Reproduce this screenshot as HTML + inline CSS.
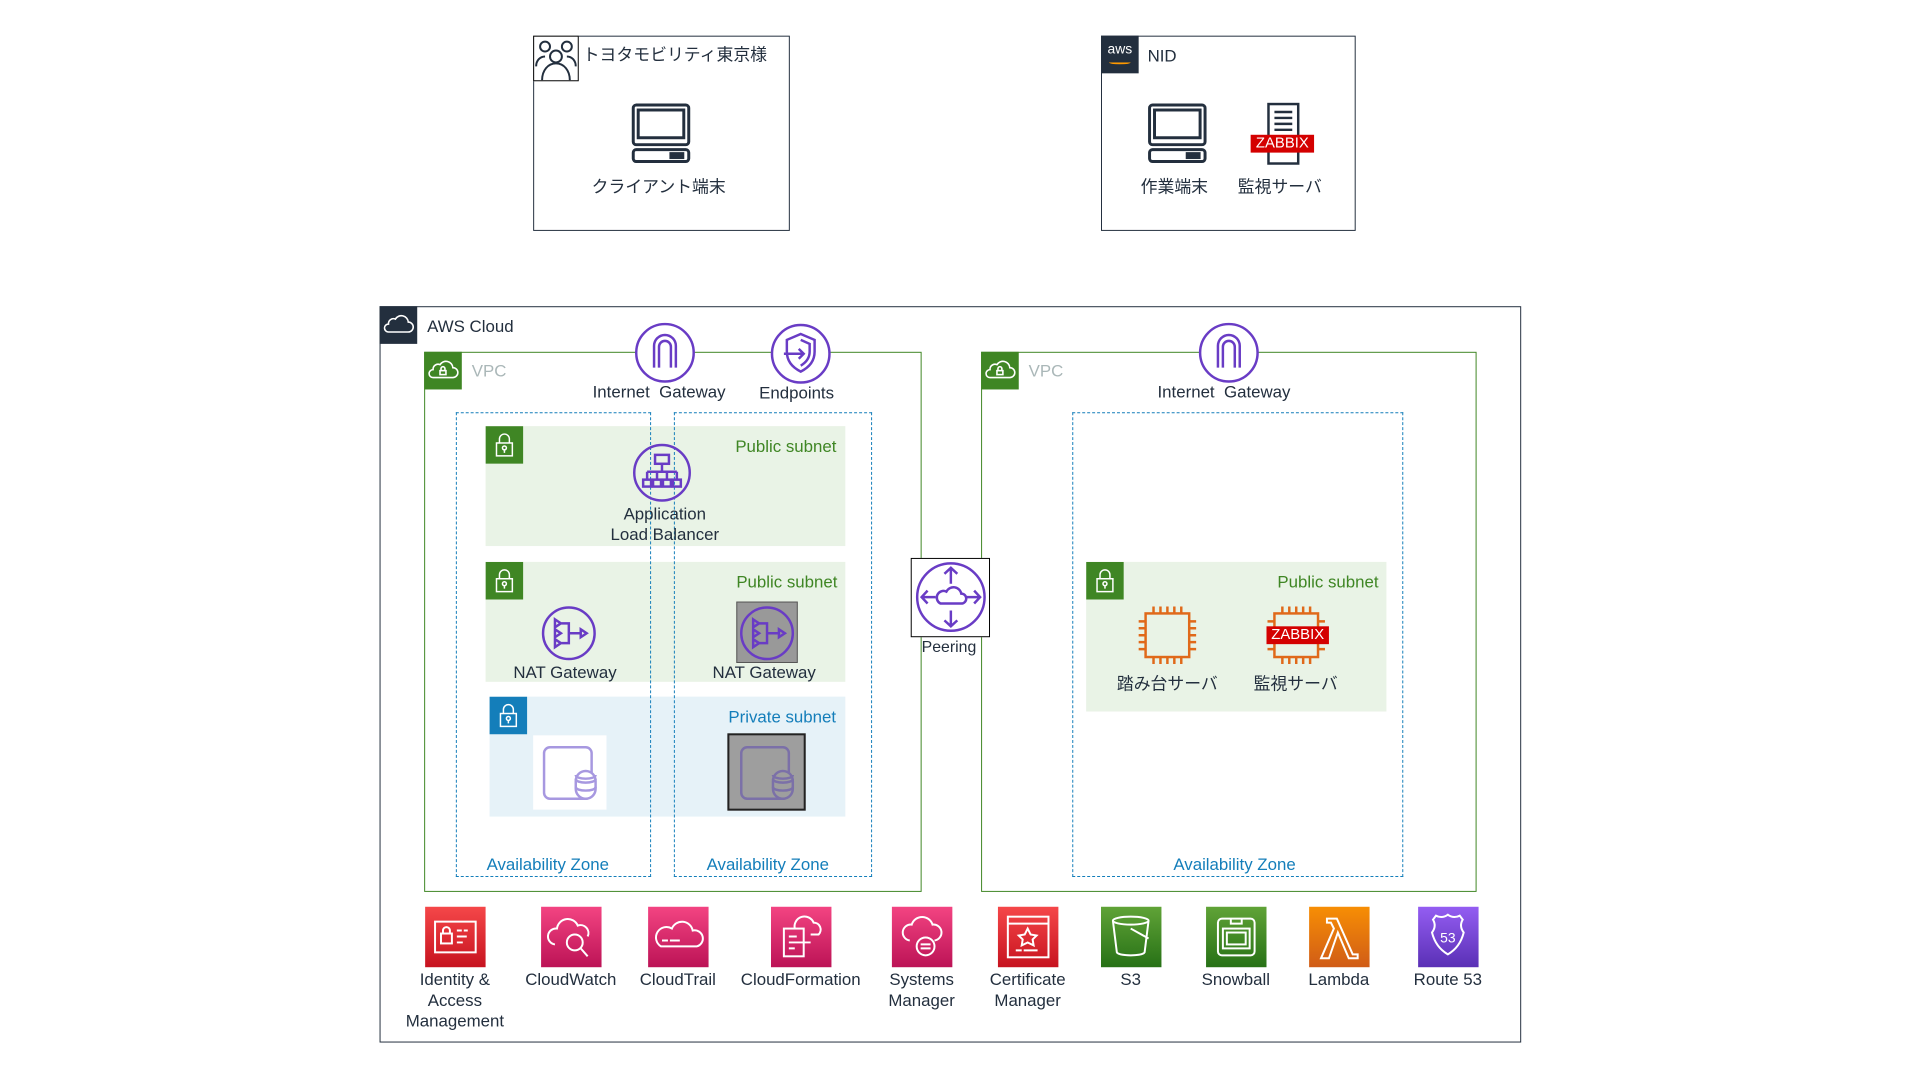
<!DOCTYPE html>
<html><head><meta charset="utf-8"><style>
*{margin:0;padding:0;box-sizing:border-box}
body{width:1920px;height:1080px;background:#fff;position:relative;overflow:hidden;font-family:"Liberation Sans","Noto Sans CJK JP",sans-serif;color:#232f3e}
#w{position:absolute;left:0;top:0;width:1920px;height:1080px;transform:scale(0.991);transform-origin:0 0}
.a{position:absolute}
.t{position:absolute;font-size:17px;white-space:nowrap;text-align:center;line-height:21px}
.icon{position:absolute;width:61px;height:61px}
</style></head><body><div id="w">

<div class="a" style="left:538px;top:36px;width:259px;height:197px;border:1.5px solid #232f3e"></div>
<div class="a" style="left:538px;top:36px;width:46px;height:46px;border:1.5px solid #000;background:#fff">
<svg width="44" height="44" viewBox="0 0 44 44" fill="none" stroke="#232f3e" stroke-width="2"><circle cx="11" cy="10" r="5"/><circle cx="33" cy="10" r="5"/><circle cx="22" cy="20" r="6"/><path d="M2 30c0-6 4-10 9-10M42 30c0-6-4-10-9-10M8 44c0-10 6-17 14-17s14 7 14 17"/></svg></div>
<div class="t" style="left:588px;top:45px;font-size:17px">トヨタモビリティ東京様</div>
<svg class="a" style="left:635px;top:103px" width="64" height="64" viewBox="0 0 64 64" fill="none" stroke="#232f3e" stroke-width="3"><rect x="4" y="3" width="56" height="40" rx="3"/><rect x="9" y="8" width="46" height="28"/><rect x="4" y="48" width="56" height="12" rx="3"/><rect x="42" y="52" width="12" height="4" fill="#232f3e"/></svg>
<div class="t" style="left:597px;top:178px">クライアント端末</div>

<div class="a" style="left:1111px;top:36px;width:257px;height:197px;border:1.5px solid #232f3e"></div>
<div class="a" style="left:1111px;top:36px;width:38px;height:38px;background:#232f3e;color:#fff;font-size:14px;text-align:center;line-height:26px">aws<div style="position:absolute;left:8px;top:25px;width:22px;height:4px;border-bottom:2px solid #f90;border-radius:0 0 50% 50%"></div></div>
<div class="t" style="left:1158px;top:46px">NID</div>
<svg class="a" style="left:1156px;top:103px" width="64" height="64" viewBox="0 0 64 64" fill="none" stroke="#232f3e" stroke-width="3"><rect x="4" y="3" width="56" height="40" rx="3"/><rect x="9" y="8" width="46" height="28"/><rect x="4" y="48" width="56" height="12" rx="3"/><rect x="42" y="52" width="12" height="4" fill="#232f3e"/></svg>
<svg class="a" style="left:1260px;top:103px" width="70" height="64" viewBox="0 0 70 64" fill="none" stroke="#232f3e" stroke-width="2.5"><rect x="20" y="2" width="30" height="60"/><path d="M26 10h18M26 16h18M26 22h18M26 28h18"/></svg>
<div class="a" style="left:1262px;top:136px;width:64px;height:18px;background:#d40000;color:#fff;font-family:'Liberation Sans',sans-serif;font-size:15px;line-height:18px;text-align:center">ZABBIX</div>
<div class="t" style="left:1151px;top:178px">作業端末</div>
<div class="t" style="left:1249px;top:178px">監視サーバ</div>

<div class="a" style="left:383px;top:309px;width:1152px;height:743px;border:1.5px solid #232f3e"></div>
<div class="a" style="left:383px;top:309px;width:38px;height:38px;background:#232f3e">
<svg width="38" height="38" viewBox="0 0 38 38" fill="none" stroke="#fff" stroke-width="1.6"><path d="M9 26h20a5 5 0 0 0 0-10 7 7 0 0 0-13-3 5 5 0 0 0-7 5 4 4 0 0 0 0 8z"/></svg></div>
<div class="t" style="left:431px;top:319px">AWS Cloud</div>

<div class="a" style="left:428px;top:355px;width:502px;height:545px;border:1.5px solid #3f8624"></div>
<div class="a" style="left:990px;top:355px;width:500px;height:545px;border:1.5px solid #3f8624"></div>
<div class="a" style="left:428px;top:355px;width:38px;height:38px;background:#3f8624"><svg width="38" height="38" viewBox="0 0 38 38" fill="none" stroke="#fff" stroke-width="1.6"><path d="M9 26h20a5 5 0 0 0 0-10 7 7 0 0 0-13-3 5 5 0 0 0-7 5 4 4 0 0 0 0 8z"/><rect x="16" y="19" width="6" height="4"/><path d="M17 19v-2a2 2 0 0 1 4 0v2"/></svg></div>
<div class="a" style="left:990px;top:355px;width:38px;height:38px;background:#3f8624"><svg width="38" height="38" viewBox="0 0 38 38" fill="none" stroke="#fff" stroke-width="1.6"><path d="M9 26h20a5 5 0 0 0 0-10 7 7 0 0 0-13-3 5 5 0 0 0-7 5 4 4 0 0 0 0 8z"/><rect x="16" y="19" width="6" height="4"/><path d="M17 19v-2a2 2 0 0 1 4 0v2"/></svg></div>
<div class="t" style="left:476px;top:364px;color:#aab7b8">VPC</div>
<div class="t" style="left:1038px;top:364px;color:#aab7b8">VPC</div>

<div class="a" style="left:490px;top:430px;width:363px;height:121px;background:#e9f3e6"></div>
<div class="a" style="left:490px;top:567px;width:363px;height:121px;background:#e9f3e6"></div>
<div class="a" style="left:494px;top:703px;width:359px;height:121px;background:#e6f2f8"></div>
<div class="a" style="left:1096px;top:567px;width:303px;height:151px;background:#e9f3e6"></div>
<svg class="a" style="left:490px;top:430px" width="38" height="38"><rect width="38" height="38" fill="#3f8624"/><g fill="none" stroke="#fff" stroke-width="1.5"><rect x="11" y="17" width="16" height="13"/><path d="M14 17v-4a5 5 0 0 1 10 0v4"/><circle cx="19" cy="22" r="2"/><path d="M19 24v3"/></g></svg>
<svg class="a" style="left:490px;top:567px" width="38" height="38"><rect width="38" height="38" fill="#3f8624"/><g fill="none" stroke="#fff" stroke-width="1.5"><rect x="11" y="17" width="16" height="13"/><path d="M14 17v-4a5 5 0 0 1 10 0v4"/><circle cx="19" cy="22" r="2"/><path d="M19 24v3"/></g></svg>
<svg class="a" style="left:494px;top:703px" width="38" height="38"><rect width="38" height="38" fill="#147eba"/><g fill="none" stroke="#fff" stroke-width="1.5"><rect x="11" y="17" width="16" height="13"/><path d="M14 17v-4a5 5 0 0 1 10 0v4"/><circle cx="19" cy="22" r="2"/><path d="M19 24v3"/></g></svg>
<svg class="a" style="left:1096px;top:567px" width="38" height="38"><rect width="38" height="38" fill="#3f8624"/><g fill="none" stroke="#fff" stroke-width="1.5"><rect x="11" y="17" width="16" height="13"/><path d="M14 17v-4a5 5 0 0 1 10 0v4"/><circle cx="19" cy="22" r="2"/><path d="M19 24v3"/></g></svg>
<div class="t" style="left:742px;top:440px;color:#3f8624">Public subnet</div>
<div class="t" style="left:743px;top:577px;color:#3f8624">Public subnet</div>
<div class="t" style="left:735px;top:713px;color:#147eba">Private subnet</div>
<div class="t" style="left:1289px;top:577px;color:#3f8624">Public subnet</div>

<div class="a" style="left:460px;top:416px;width:197px;height:469px;border:1.5px dashed #147eba"></div>
<div class="a" style="left:680px;top:416px;width:200px;height:469px;border:1.5px dashed #147eba"></div>
<div class="a" style="left:1082px;top:416px;width:334px;height:469px;border:1.5px dashed #147eba"></div>
<div class="t" style="left:491px;top:862px;color:#147eba">Availability Zone</div>
<div class="t" style="left:713px;top:862px;color:#147eba">Availability Zone</div>
<div class="t" style="left:1184px;top:862px;color:#147eba">Availability Zone</div>

<svg class="a" style="left:640px;top:325px" width="62" height="62" viewBox="0 0 62 62"><circle cx="31" cy="31" r="29" fill="#fff" stroke="#693cc5" stroke-width="2.5"/><path d="M20 46V24a11 11 0 0 1 22 0v22M25 46V25a6 6 0 0 1 12 0v21" fill="none" stroke="#693cc5" stroke-width="2.5"/></svg>
<div class="t" style="left:598px;top:385px">Internet&nbsp; Gateway</div>
<svg class="a" style="left:777px;top:326px" width="62" height="62" viewBox="0 0 62 62"><circle cx="31" cy="31" r="29" fill="#fff" stroke="#693cc5" stroke-width="2.5"/><path d="M31 11l14 6v12c0 10-6 16-14 20-8-4-14-10-14-20V17zM31 17l9 4v8c0 7-4 11-9 14" fill="none" stroke="#693cc5" stroke-width="2.5"/><path d="M14 31h20m-5-5l5 5-5 5" fill="none" stroke="#693cc5" stroke-width="2.5"/></svg>
<div class="t" style="left:766px;top:386px">Endpoints</div>
<svg class="a" style="left:1209px;top:325px" width="62" height="62" viewBox="0 0 62 62"><circle cx="31" cy="31" r="29" fill="#fff" stroke="#693cc5" stroke-width="2.5"/><path d="M20 46V24a11 11 0 0 1 22 0v22M25 46V25a6 6 0 0 1 12 0v21" fill="none" stroke="#693cc5" stroke-width="2.5"/></svg>
<div class="t" style="left:1168px;top:385px">Internet&nbsp; Gateway</div>

<svg class="a" style="left:638px;top:447px" width="60" height="60" viewBox="0 0 60 60" fill="none" stroke="#693cc5" stroke-width="2.5"><circle cx="30" cy="30" r="28"/><rect x="23" y="12" width="14" height="9"/><path d="M30 21v8M15 29h30M15 29v8M25 29v8M35 29v8M45 29v8"/><rect x="11" y="37" width="8" height="7"/><rect x="21" y="37" width="8" height="7"/><rect x="31" y="37" width="8" height="7"/><rect x="41" y="37" width="8" height="7"/></svg>
<div class="t" style="left:616px;top:508px;line-height:21px">Application<br>Load Balancer</div>

<svg class="a" style="left:546px;top:611px" width="56" height="56" viewBox="0 0 56 56" fill="none" stroke="#693cc5" stroke-width="2.5"><circle cx="28" cy="28" r="26"/><path d="M14 14l6 4-6 4zM14 24l6 4-6 4zM14 34l6 4-6 4zM20 18h8v20h-8M28 28h12M40 24l6 4-6 4z"/></svg>
<div class="t" style="left:518px;top:668px">NAT Gateway</div>
<div class="a" style="left:743px;top:607px;width:62px;height:62px;background:#999;border:1px solid #555"></div>
<svg class="a" style="left:746px;top:611px" width="56" height="56" viewBox="0 0 56 56" fill="none" stroke="#693cc5" stroke-width="2.5"><circle cx="28" cy="28" r="26"/><path d="M14 14l6 4-6 4zM14 24l6 4-6 4zM14 34l6 4-6 4zM20 18h8v20h-8M28 28h12M40 24l6 4-6 4z"/></svg>
<div class="t" style="left:719px;top:668px">NAT Gateway</div>

<div class="a" style="left:538px;top:742px;width:74px;height:75px;background:#fff"></div>
<svg class="a" style="left:545px;top:750px" width="60" height="60" viewBox="0 0 60 60" fill="none" stroke="#a798e0" stroke-width="2.5"><rect x="4" y="4" width="48" height="52" rx="6"/><rect x="36" y="28" width="20" height="28" rx="10" fill="#fff"/><path d="M36 36c0 5 20 5 20 0M36 44c0 5 20 5 20 0M36 32c0 5 20 5 20 0"/></svg>
<div class="a" style="left:734px;top:740px;width:79px;height:78px;background:#9e9e9e;border:2px solid #222"></div>
<svg class="a" style="left:744px;top:750px" width="60" height="60" viewBox="0 0 60 60" fill="none" stroke="#7b70a8" stroke-width="2.5"><rect x="4" y="4" width="48" height="52" rx="6"/><rect x="36" y="28" width="20" height="28" rx="10" fill="#9e9e9e"/><path d="M36 36c0 5 20 5 20 0M36 44c0 5 20 5 20 0M36 32c0 5 20 5 20 0"/></svg>

<div class="a" style="left:919px;top:563px;width:80px;height:80px;border:1.5px solid #000;background:#fff"></div>
<svg class="a" style="left:922px;top:565px" width="75" height="75" viewBox="0 0 75 75" fill="none" stroke="#693cc5" stroke-width="2.5"><circle cx="37.5" cy="37.5" r="34"/><path d="M37.5 8v16M31 14l6.5-6 6.5 6M37.5 67V51M31 61l6.5 6 6.5-6M8 37.5h14M14 31l-6 6.5 6 6.5M67 37.5H53M61 31l6 6.5-6 6.5"/><path d="M27 44h21a5 5 0 0 0 0-10 8 8 0 0 0-15-2 5 5 0 0 0-6 12z"/></svg>
<div class="t" style="left:930px;top:643px;font-size:16px">Peering</div>

<svg class="a" style="left:1146px;top:609px" width="64" height="64" viewBox="0 0 64 64" fill="none" stroke="#e0691a" stroke-width="2.5"><rect x="10" y="10" width="44" height="44"/><path d="M18 3v7M25 3v7M32 3v7M39 3v7M46 3v7M18 54v7M25 54v7M32 54v7M39 54v7M46 54v7M3 18h7M3 25h7M3 32h7M3 39h7M3 46h7M54 18h7M54 25h7M54 32h7M54 39h7M54 46h7"/></svg>
<svg class="a" style="left:1276px;top:609px" width="64" height="64" viewBox="0 0 64 64" fill="none" stroke="#e0691a" stroke-width="2.5"><rect x="10" y="10" width="44" height="44"/><path d="M18 3v7M25 3v7M32 3v7M39 3v7M46 3v7M18 54v7M25 54v7M32 54v7M39 54v7M46 54v7M3 18h7M3 25h7M3 32h7M3 39h7M3 46h7M54 18h7M54 25h7M54 32h7M54 39h7M54 46h7"/></svg>
<div class="a" style="left:1278px;top:632px;width:63px;height:18px;background:#d40000;color:#fff;font-family:'Liberation Sans',sans-serif;font-size:15px;line-height:18px;text-align:center">ZABBIX</div>
<div class="t" style="left:1127px;top:680px">踏み台サーバ</div>
<div class="t" style="left:1265px;top:680px">監視サーバ</div>

<div class="icon" style="left:429px;top:915px;background:linear-gradient(#f54749,#c7131f)"><svg width="61" height="61" fill="none" stroke="#fff" stroke-width="2"><rect x="10" y="15" width="41" height="31"/><rect x="16" y="27" width="11" height="10"/><path d="M18 27v-3a3.5 3.5 0 0 1 7 0v3M32 24h5M39 24h4M32 30h10M32 36h6"/></svg></div>
<div class="icon" style="left:546px;top:915px;background:linear-gradient(#f34482,#bc1356)"><svg width="61" height="61" fill="none" stroke="#fff" stroke-width="2"><path d="M14 38a8 8 0 0 1 2-16 11 11 0 0 1 21-3 8 8 0 0 1 10 11"/><circle cx="34" cy="36" r="8"/><path d="M40 42l7 8"/></svg></div>
<div class="icon" style="left:654px;top:915px;background:linear-gradient(#f34482,#bc1356)"><svg width="61" height="61" fill="none" stroke="#fff" stroke-width="2"><path d="M13 40h36a8 8 0 0 0-4-16 11 11 0 0 0-21-2 8 8 0 0 0-11 18zM14 34h6M22 34h10M14 40h14"/></svg></div>
<div class="icon" style="left:778px;top:915px;background:linear-gradient(#f34482,#bc1356)"><svg width="61" height="61" fill="none" stroke="#fff" stroke-width="2"><rect x="13" y="22" width="20" height="28"/><path d="M18 30h8M18 36h22M18 42h6M24 22a10 10 0 0 1 19-6 7 7 0 0 1 5 12h-8"/></svg></div>
<div class="icon" style="left:900px;top:915px;background:linear-gradient(#f34482,#bc1356)"><svg width="61" height="61" fill="none" stroke="#fff" stroke-width="2"><path d="M18 34a8 8 0 0 1 2-16 11 11 0 0 1 21 0 8 8 0 0 1 2 16"/><circle cx="34" cy="40" r="9"/><path d="M29 38h10M29 42h10"/></svg></div>
<div class="icon" style="left:1007px;top:915px;background:linear-gradient(#f54749,#c7131f)"><svg width="61" height="61" fill="none" stroke="#fff" stroke-width="2"><rect x="10" y="10" width="41" height="41"/><path d="M10 17h41M30 22l3 6 6 1-4 4 1 6-6-3-6 3 1-6-4-4 6-1zM18 44h6M26 44h14"/></svg></div>
<div class="icon" style="left:1111px;top:915px;background:linear-gradient(#60a337,#277116)"><svg width="61" height="61" fill="none" stroke="#fff" stroke-width="2"><ellipse cx="30" cy="14" rx="18" ry="4"/><path d="M12 14l4 32c2 4 26 4 28 0l4-32M30 22l18 10"/></svg></div>
<div class="icon" style="left:1217px;top:915px;background:linear-gradient(#60a337,#277116)"><svg width="61" height="61" fill="none" stroke="#fff" stroke-width="2"><rect x="12" y="12" width="37" height="37" rx="4"/><rect x="17" y="22" width="27" height="20"/><rect x="21" y="26" width="19" height="12"/><path d="M25 12v5h11v-5"/></svg></div>
<div class="icon" style="left:1321px;top:915px;background:linear-gradient(#f78e04,#d05c17)"><svg width="61" height="61" fill="none" stroke="#fff" stroke-width="2"><path d="M18 12h10l16 36h5v4h-9L29 26l-9 26h-8l13-30-3-6h-4z"/></svg></div>
<div class="icon" style="left:1431px;top:915px;background:linear-gradient(#945df2,#5a30b5)"><svg width="61" height="61" fill="none" stroke="#fff" stroke-width="2"><path d="M30 8c4 3 8 3 12 1l3 4c-3 5-2 9 1 13-3 12-9 18-16 22-7-4-13-10-16-22 3-4 4-8 1-13l3-4c4 2 8 2 12-1z"/><text x="30" y="36" font-size="14" fill="#fff" stroke="none" text-anchor="middle" font-family="Liberation Sans">53</text></svg></div>

<div class="t" style="left:399px;top:978px;width:120px">Identity &amp;<br>Access<br>Management</div>
<div class="t" style="left:516px;top:978px;width:120px">CloudWatch</div>
<div class="t" style="left:624px;top:978px;width:120px">CloudTrail</div>
<div class="t" style="left:738px;top:978px;width:140px">CloudFormation</div>
<div class="t" style="left:870px;top:978px;width:120px">Systems<br>Manager</div>
<div class="t" style="left:977px;top:978px;width:120px">Certificate<br>Manager</div>
<div class="t" style="left:1081px;top:978px;width:120px">S3</div>
<div class="t" style="left:1187px;top:978px;width:120px">Snowball</div>
<div class="t" style="left:1291px;top:978px;width:120px">Lambda</div>
<div class="t" style="left:1401px;top:978px;width:120px">Route 53</div>

</div></body></html>
